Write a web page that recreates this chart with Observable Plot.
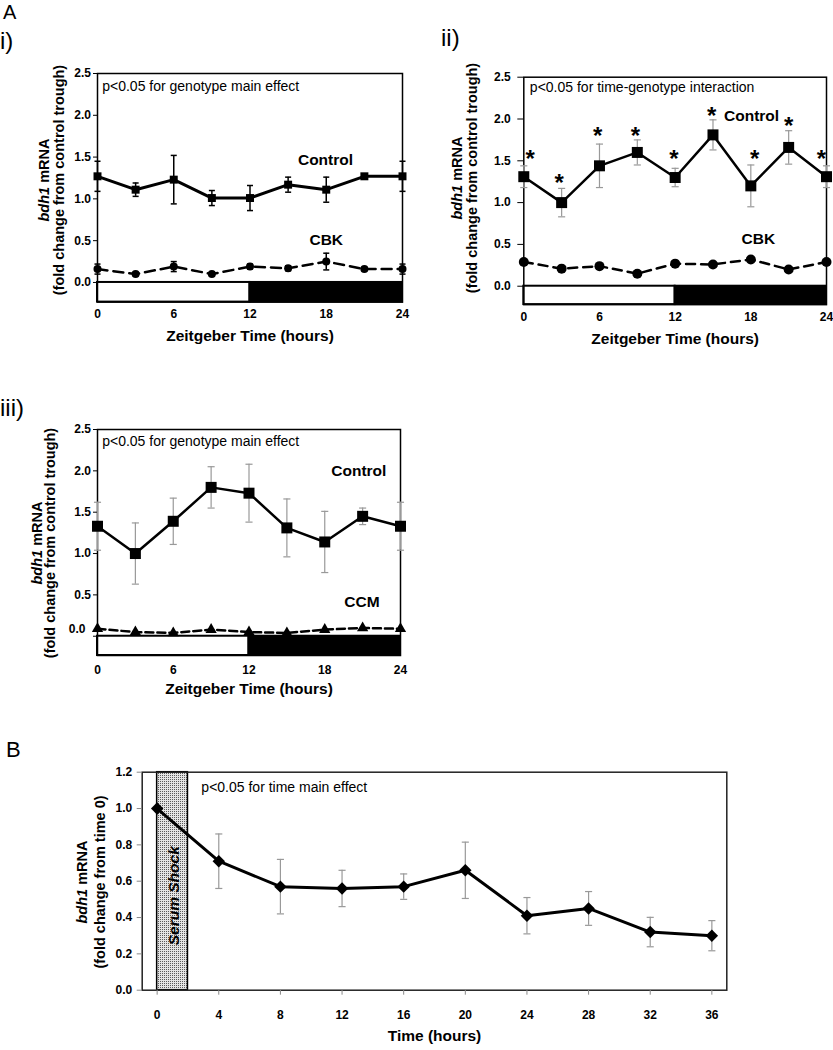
<!DOCTYPE html>
<html><head><meta charset="utf-8">
<script src="https://cdn.jsdelivr.net/npm/d3@7"></script>
<script src="https://cdn.jsdelivr.net/npm/@observablehq/plot@0.6"></script>
<style>
body{margin:0;background:#fff;}
#page{position:relative;width:833px;height:1050px;overflow:hidden;background:#fff;font-family:"Liberation Sans",Arial,sans-serif;}
#page svg{position:absolute;}
</style></head><body><div id="page"></div>
<script>
// ---------- data ----------
const zt = [0, 3, 6, 9, 12, 15, 18, 21, 24];
const ztTicks = [0, 6, 12, 18, 24];
const foldTicks = [0, 0.5, 1.0, 1.5, 2.0, 2.5];
const phases = [{start: 0, end: 12, phase: "light"}, {start: 12, end: 24, phase: "dark"}];

// A i) Control vs CBK
const ctrlI = [1.27, 1.11, 1.23, 1.01, 1.01, 1.17, 1.11, 1.27, 1.27];
const ctrlIErr = [0.18, 0.08, 0.29, 0.09, 0.15, 0.09, 0.15, 0.02, 0.18];
const cbkI = [0.16, 0.10, 0.19, 0.10, 0.19, 0.17, 0.25, 0.16, 0.16];
const cbkIErr = [0.06, 0.02, 0.06, 0.02, 0.03, 0.03, 0.10, 0.02, 0.06];

// A ii) Control vs CBK
const ctrlII = [1.31, 1.00, 1.44, 1.60, 1.30, 1.81, 1.20, 1.66, 1.31];
const ctrlIIErr = [0.13, 0.17, 0.26, 0.15, 0.11, 0.18, 0.25, 0.20, 0.13];
const cbkII = [0.29, 0.21, 0.24, 0.15, 0.27, 0.26, 0.32, 0.20, 0.29];
const sigX = [0.5, 2.8, 5.85, 8.85, 11.9, 14.9, 18.3, 21.0, 23.6];
const sigY = [1.59, 1.30, 1.87, 1.87, 1.59, 2.10, 1.59, 1.99, 1.59];

// A iii) Control vs CCM
const ctrlIII = [1.33, 1.00, 1.39, 1.80, 1.73, 1.31, 1.14, 1.45, 1.33];
const ctrlIIIErr = [0.29, 0.37, 0.28, 0.25, 0.35, 0.35, 0.37, 0.10, 0.29];
const ccmIII = [0.09, 0.05, 0.04, 0.08, 0.05, 0.04, 0.08, 0.10, 0.09];

// B) serum shock time course
const hours = [0, 4, 8, 12, 16, 20, 24, 28, 32, 36];
const hourTicks = [0, 4, 8, 12, 16, 20, 24, 28, 32, 36];
const bdhB = [1.00, 0.71, 0.57, 0.56, 0.57, 0.66, 0.41, 0.45, 0.32, 0.30];
const bdhBErr = [0, 0.15, 0.15, 0.10, 0.07, 0.155, 0.10, 0.093, 0.081, 0.083];
const bTicks = [0, 0.2, 0.4, 0.6, 0.8, 1.0, 1.2];
const serumShock = [{start: 0, end: 2, label: "Serum Shock"}];

// ---------- helpers ----------
const FONT = '"Liberation Sans", Arial, Helvetica, sans-serif';
const page = document.getElementById("page");
const rows = (xs, ys, es) => xs.map((x, i) => ({x, y: ys[i], e: es ? es[i] : 0}));
const capSymbol = {draw(ctx, size) { const w = Math.sqrt(size) / 2; ctx.moveTo(-w, 0); ctx.lineTo(w, 0); }};
const f1 = d3.format(".1f");

function errorMarks(data, color, width, capR) {
  const d = data.filter(r => r.e > 0);
  return [
    Plot.ruleX(d, {x: "x", y1: r => r.y - r.e, y2: r => r.y + r.e, stroke: color, strokeWidth: width}),
    Plot.dot(d, {x: "x", y: r => r.y + r.e, symbol: capSymbol, r: capR, fill: "none", stroke: color, strokeWidth: width}),
    Plot.dot(d, {x: "x", y: r => r.y - r.e, symbol: capSymbol, r: capR, fill: "none", stroke: color, strokeWidth: width})
  ];
}

function panel({left, top, width, height, xpx, ypx, xDomain, yDomain, marks}) {
  const svg = Plot.plot({
    width, height,
    marginLeft: xpx[0] - left, marginRight: left + width - xpx[1],
    marginTop: ypx[0] - top, marginBottom: top + height - ypx[1],
    x: {domain: xDomain}, y: {domain: yDomain},
    style: {fontFamily: FONT, fontSize: "12px", background: "transparent", color: "black", overflow: "visible"},
    marks
  });
  svg.style.left = left + "px";
  svg.style.top = top + "px";
  page.appendChild(svg);
  return svg;
}

function ztMarks(yMin, barStroke) {
  return [
    Plot.rect(phases, {x1: "start", x2: "end", y1: () => yMin, y2: () => 0,
      fill: d => d.phase === "dark" ? "black" : "white", stroke: "black", strokeWidth: barStroke}),
    Plot.frame({stroke: "black", strokeWidth: 1.5})
  ];
}

// ---------- A i) ----------
const dI = rows(zt, ctrlI, ctrlIErr), kI = rows(zt, cbkI, cbkIErr);
panel({
  left: 0, top: 0, width: 420, height: 360, xpx: [97, 402], ypx: [73, 301.6],
  xDomain: [0, 24], yDomain: [-0.235, 2.5],
  marks: [
    ...ztMarks(-0.235, 2),
    Plot.axisY({ticks: foldTicks, tickFormat: f1, tickSize: 4, tickPadding: 2.5, fontWeight: "bold", fontSize: 12, label: null}),
    Plot.axisX({ticks: ztTicks, tickFormat: d => d, tickSize: 0, tickPadding: 7.1, fontWeight: "bold", fontSize: 12, label: null}),
    Plot.text(["Zeitgeber Time (hours)"], {frameAnchor: "bottom", dy: 38.5, fontWeight: "bold", fontSize: 15.5}),
    ...errorMarks(dI, "black", 1.5, 3.4),
    ...errorMarks(kI, "black", 1.5, 3.4),
    Plot.line(dI, {x: "x", y: "y", stroke: "black", strokeWidth: 3}),
    Plot.line(kI, {x: "x", y: "y", stroke: "black", strokeWidth: 2.5, strokeDasharray: "10,6"}),
    Plot.dot(dI, {x: "x", y: "y", symbol: "square", r: 4.5, fill: "black"}),
    Plot.dot(kI, {x: "x", y: "y", symbol: "circle", r: 4, fill: "black"}),
    Plot.text(["p<0.05 for genotype main effect"], {x: 0.37, y: 2.35, textAnchor: "start", fontSize: 14}),
    Plot.text(["Control"], {x: 17.94, y: 1.46, fontWeight: "bold", fontSize: 15.5}),
    Plot.text(["CBK"], {x: 18.0, y: 0.51, fontWeight: "bold", fontSize: 15.5})
  ]
});

// ---------- A ii) ----------
const dII = rows(zt, ctrlII, ctrlIIErr), kII = rows(zt, cbkII);
panel({
  left: 413, top: 0, width: 420, height: 360, xpx: [523.3, 826], ypx: [76.7, 304.1],
  xDomain: [0, 24], yDomain: [-0.22, 2.5],
  marks: [
    ...ztMarks(-0.22, 2),
    Plot.axisY({ticks: foldTicks, tickFormat: f1, tickSize: 6, tickPadding: 7, fontWeight: "bold", fontSize: 12, label: null}),
    Plot.axisX({ticks: ztTicks, tickFormat: d => d, tickSize: 0, tickPadding: 8.3, fontWeight: "bold", fontSize: 12, label: null}),
    Plot.text(["Zeitgeber Time (hours)"], {frameAnchor: "bottom", dy: 39, fontWeight: "bold", fontSize: 15.5}),
    ...errorMarks(dII, "#999", 1.2, 4),
    Plot.line(dII, {x: "x", y: "y", stroke: "black", strokeWidth: 2.5}),
    Plot.line(kII, {x: "x", y: "y", stroke: "black", strokeWidth: 2.5, strokeDasharray: "9,6"}),
    Plot.dot(dII, {x: "x", y: "y", symbol: "square", r: 6.2, fill: "black"}),
    Plot.dot(kII, {x: "x", y: "y", symbol: "circle", r: 5, fill: "black"}),
    Plot.text(sigX, {x: d => d, y: (d, i) => sigY[i], text: () => "*", fontWeight: "bold", fontSize: 24, dy: 6}),
    Plot.text(["p<0.05 for time-genotype interaction"], {x: 0.48, y: 2.38, textAnchor: "start", fontSize: 14}),
    Plot.text(["Control"], {x: 18.06, y: 2.04, fontWeight: "bold", fontSize: 15.5}),
    Plot.text(["CBK"], {x: 18.6, y: 0.57, fontWeight: "bold", fontSize: 15.5})
  ]
});

// ---------- A iii) ----------
const dIII = rows(zt, ctrlIII, ctrlIIIErr), kIII = rows(zt, ccmIII);
panel({
  left: 0, top: 360, width: 420, height: 345, xpx: [97, 400], ypx: [429, 655],
  xDomain: [0, 24], yDomain: [-0.233, 2.5],
  marks: [
    ...ztMarks(-0.233, 2),
    Plot.axisY({ticks: foldTicks, tickFormat: d => d === 0 ? "" : f1(d), tickSize: 4, tickPadding: 2.5, fontWeight: "bold", fontSize: 12, label: null}),
    Plot.text([0], {y: d => d, text: d => f1(d), frameAnchor: "left", textAnchor: "end", dx: -12, dy: -7, fontWeight: "bold", fontSize: 12}),
    Plot.axisX({ticks: ztTicks, tickFormat: d => d, tickSize: 0, tickPadding: 9.7, fontWeight: "bold", fontSize: 12, label: null}),
    Plot.text(["Zeitgeber Time (hours)"], {frameAnchor: "bottom", dy: 38.6, fontWeight: "bold", fontSize: 15.5}),
    ...errorMarks(dIII, "#999", 1.2, 4),
    Plot.line(dIII, {x: "x", y: "y", stroke: "black", strokeWidth: 2.5}),
    Plot.line(kIII, {x: "x", y: "y", stroke: "black", strokeWidth: 2.5, strokeDasharray: "8,4"}),
    Plot.dot(dIII, {x: "x", y: "y", symbol: "square", r: 6.2, fill: "black"}),
    Plot.dot(kIII, {x: "x", y: "y", symbol: "triangle", r: 4.2, fill: "black"}),
    Plot.text(["p<0.05 for genotype main effect"], {x: 0.37, y: 2.36, textAnchor: "start", fontSize: 14}),
    Plot.text(["Control"], {x: 20.7, y: 2.0, fontWeight: "bold", fontSize: 15.5}),
    Plot.text(["CCM"], {x: 20.95, y: 0.41, fontWeight: "bold", fontSize: 15.5})
  ]
});

// ---------- B ----------
const dB = rows(hours, bdhB, bdhBErr);
const svgB = panel({
  left: 0, top: 705, width: 833, height: 345, xpx: [141.7, 726.3], ypx: [771.7, 989.7],
  xDomain: [-0.97, 36.97], yDomain: [0, 1.2],
  marks: [
    Plot.rect(serumShock, {x1: "start", x2: "end", y1: () => 0, y2: () => 1.2, fill: "url(#stipple)", stroke: "black", strokeWidth: 1.5}),
    Plot.text(serumShock, {x: d => (d.start + d.end) / 2 + 0.12, y: () => 0.52, text: "label", rotate: -90, fontWeight: "bold", fontStyle: "italic", fontSize: 15.5}),
    Plot.frame({stroke: "#222", strokeWidth: 1.5}),
    Plot.axisY({ticks: bTicks, tickFormat: f1, tickSize: 5, tickPadding: 5, stroke: "#888", fontWeight: "bold", fontSize: 12, label: null}),
    Plot.axisX({ticks: hourTicks, tickFormat: d => d, tickSize: 5, tickPadding: 15, stroke: "#888", fontWeight: "bold", fontSize: 12, label: null}),
    Plot.text(["Time (hours)"], {frameAnchor: "bottom", dy: 50.5, fontWeight: "bold", fontSize: 15.5}),
    ...errorMarks(dB, "#999", 1.2, 4),
    Plot.line(dB, {x: "x", y: "y", stroke: "black", strokeWidth: 3}),
    Plot.dot(dB, {x: "x", y: "y", symbol: "diamond2", r: 5.6, fill: "black"}),
    Plot.text(["p<0.05 for time main effect"], {x: 2.87, y: 1.114, textAnchor: "start", fontSize: 14})
  ]
});
const defs = d3.select(svgB).insert("defs", ":first-child");
const pat = defs.append("pattern").attr("id", "stipple").attr("width", 2).attr("height", 2).attr("patternUnits", "userSpaceOnUse");
pat.append("rect").attr("width", 2).attr("height", 2).attr("fill", "#e4e4e4");
pat.append("rect").attr("width", 1).attr("height", 1).attr("fill", "#5a5a5a");

// ---------- overlay: panel letters and y-axis titles ----------
const ov = d3.select(page).append("svg").attr("width", 833).attr("height", 1050)
  .style("left", "0px").style("top", "0px").style("pointer-events", "none");
const letters = [
  {t: "A", x: 3, y: 19, s: 20}, {t: "i)", x: 0, y: 49, s: 24}, {t: "ii)", x: 441, y: 46, s: 24},
  {t: "iii)", x: 0, y: 416, s: 24}, {t: "B", x: 6, y: 757, s: 22}
];
for (const l of letters) {
  ov.append("text").attr("x", l.x).attr("y", l.y).attr("font-family", FONT)
    .attr("font-size", l.s).attr("fill", "black").text(l.t);
}
function yTitle(cx, cy, gap, fs, line2) {
  const b1 = cx - gap / 2 + 0.36 * fs, b2 = cx + gap / 2 + 0.36 * fs;
  const t1 = ov.append("text").attr("transform", `translate(${b1},${cy}) rotate(-90)`)
    .attr("text-anchor", "middle").attr("font-family", FONT).attr("font-weight", "bold").attr("font-size", fs);
  t1.append("tspan").attr("font-style", "italic").text("bdh1");
  t1.append("tspan").text(" mRNA");
  ov.append("text").attr("transform", `translate(${b2},${cy}) rotate(-90)`)
    .attr("text-anchor", "middle").attr("font-family", FONT).attr("font-weight", "bold").attr("font-size", fs)
    .text(line2);
}
yTitle(51.5, 180, 15, 14.5, "(fold change from control  trough)");
yTitle(464.2, 178, 15, 14.5, "(fold change from control trough)");
yTitle(43, 543, 13, 14.5, "(fold change from control trough)");
yTitle(91, 882, 18, 14.5, "(fold change from time 0)");
</script>
</body></html>
